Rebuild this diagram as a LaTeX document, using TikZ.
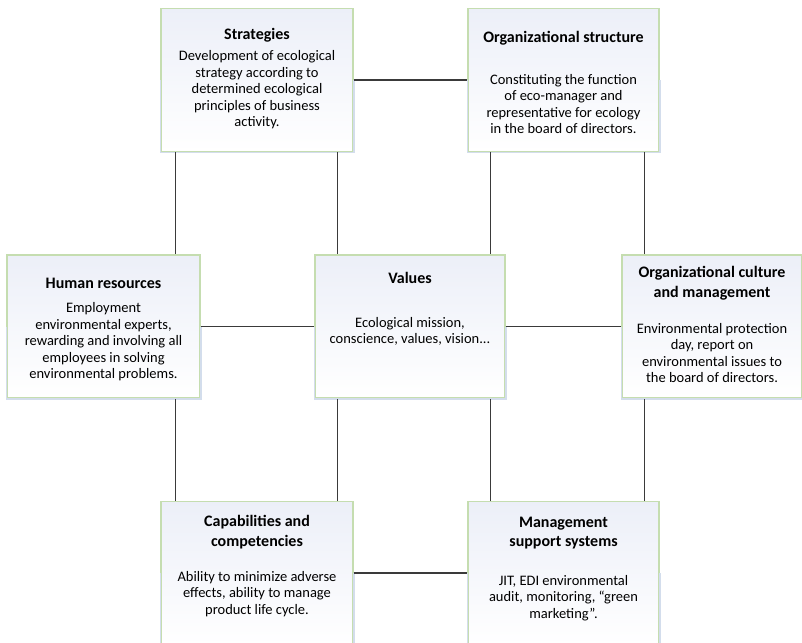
\documentclass[tikz,border=0pt]{standalone}
\usepackage{fontspec}
\setmainfont{Carlito}
\usetikzlibrary{positioning}
\definecolor{boxgreen}{HTML}{C5DDB0}
\definecolor{boxblue}{HTML}{D3DDEC}
\definecolor{boxfill}{HTML}{ECEFF8}
\definecolor{linkgray}{HTML}{3A3A3A}

\begin{document}
\begin{tikzpicture}[x=1pt,y=-1pt,
                    area/.style={rectangle,draw=boxgreen,line width=1.5pt,top color=boxfill,bottom color=white,
                                 minimum width=#1,minimum height=143pt,inner sep=0pt},
                    area/.default=192pt,
                    title/.style={font=\bfseries\fontsize{16}{19.5}\selectfont,align=center},
                    body/.style={font=\fontsize{14.5}{16.5}\selectfont,align=center},
                    link/.style={draw=linkgray,line width=1.3pt}
                ]
                \clip (0,0) rectangle (802,642);
                % boxes
                \node[area] (strat) at (257,80) {};
                \node[area=191pt] (org) at (563.5,80) {};
                \node[area=193pt] (hr) at (103.5,326.5) {};
                \node[area=190pt] (val) at (410,326.5) {};
                \node[area=180pt] (cult) at (712,326.5) {};
                \node[area] (cap) at (257,573) {};
                \node[area=191pt] (mgmt) at (563.5,573) {};
                \foreach \n in {strat,org,hr,val,cult,cap,mgmt}
                    \draw[boxblue,line width=1.5pt] (\n.west) |- (\n.south) -| (\n.east);
                % texts
                \node[title] (stratT) at (257,35) {Strategies};
                \node[body] (stratB) at (257,90) {Development of ecological\\strategy according to\\determined ecological\\principles of business\\activity.};
                \node[title] (orgT) at (563.5,38) {Organizational structure};
                \node[body] (orgB) at (563.5,104) {Constituting the function\\of eco-manager and\\representative for ecology\\in the board of directors.};
                \node[title] (hrT) at (103.5,283) {Human resources};
                \node[body] (hrB) at (103.5,342) {Employment\\environmental experts,\\rewarding and involving all\\employees in solving\\environmental problems.};
                \node[title] (valT) at (410,278) {Values};
                \node[body] (valB) at (410,331.5) {Ecological mission,\\conscience, values, vision...};
                \node[title] (cultT) at (712,283) {Organizational culture\\and management};
                \node[body] (cultB) at (712,353) {Environmental protection\\day, report on\\environmental issues to\\the board of directors.};
                \node[title] (capT) at (257,532) {Capabilities and\\competencies};
                \node[body] (capB) at (257,594) {Ability to minimize adverse\\effects, ability to manage\\product life cycle.};
                \node[title] (mgmtT) at (563.5,533) {Management\\support systems};
                \node[body] (mgmtB) at (563.5,598) {JIT, EDI environmental\\audit, monitoring, “green\\marketing”.};
                % links
                \draw[link] (strat.east) -- (org.west);
                \draw[link] (hr.east) -- (val.west);
                \draw[link] (val.east) -- (cult.west);
                \draw[link] (cap.east) -- (mgmt.west);
                \draw[link] ([xshift=15pt]strat.south west) -- ([xshift=15pt]strat.south west |- hr.north);
                \draw[link] ([xshift=-16pt]strat.south east) -- ([xshift=-16pt]strat.south east |- val.north);
                \draw[link] ([xshift=23pt]org.south west) -- ([xshift=23pt]org.south west |- val.north);
                \draw[link] ([xshift=-15pt]org.south east) -- ([xshift=-15pt]org.south east |- cult.north);
                \draw[link] ([xshift=15pt]cap.north west) -- ([xshift=15pt]cap.north west |- hr.south);
                \draw[link] ([xshift=-16pt]cap.north east) -- ([xshift=-16pt]cap.north east |- val.south);
                \draw[link] ([xshift=23pt]mgmt.north west) -- ([xshift=23pt]mgmt.north west |- val.south);
                \draw[link] ([xshift=-15pt]mgmt.north east) -- ([xshift=-15pt]mgmt.north east |- cult.south);
\end{tikzpicture}
\end{document}
